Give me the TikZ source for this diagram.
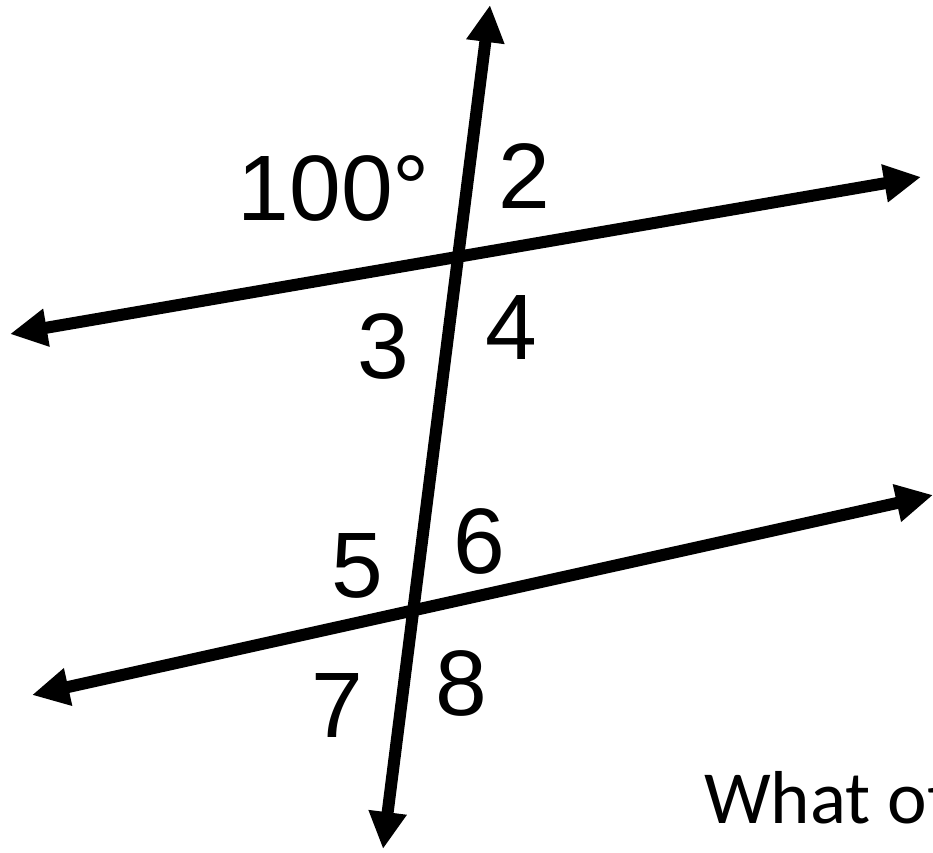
\documentclass[tikz,border=0pt]{standalone}
\usepackage{fontspec}
\setmainfont{Liberation Sans}
\newfontfamily\calib{Carlito}
\usetikzlibrary{arrows.meta}
\begin{document}
\begin{tikzpicture}[x=1pt,y=-1pt,
  lineA/.style={line width=12pt,{Triangle[length=37pt,width=36pt]}-{Triangle[length=37pt,width=36pt]}},
  lbl/.style={font=\fontsize{93}{93}\selectfont,inner sep=0pt,anchor=base},
  qtext/.style={font=\calib\fontsize{75}{75}\selectfont,inner sep=0pt,anchor=base west}]
\useasboundingbox (0,0) rectangle (933,852);
\fill[white] (0,0) rectangle (933,852);
% end points
\coordinate (tTop) at (490,5);
\coordinate (tBot) at (383,849);
\coordinate (uL) at (10,334);
\coordinate (uR) at (921,177);
\coordinate (lL) at (32,695);
\coordinate (lR) at (933,495);
\draw[lineA] (tBot) -- (tTop);
\draw[lineA] (uL) -- (uR);
\draw[lineA] (lL) -- (lR);
% labels
\node[lbl] (a1) at (334,220) {100°};
\node[lbl] (a2) at (524,208) {2};
\node[lbl] (a3) at (383,378) {3};
\node[lbl] (a4) at (511,359) {4};
\node[lbl] (a5) at (357,597) {5};
\node[lbl] (a6) at (479,573) {6};
\node[lbl] (a7) at (337,737) {7};
\node[lbl] (a8) at (461,715) {8};
\node[qtext] (q) at (704,823) {What ot};
\end{tikzpicture}
\end{document}
